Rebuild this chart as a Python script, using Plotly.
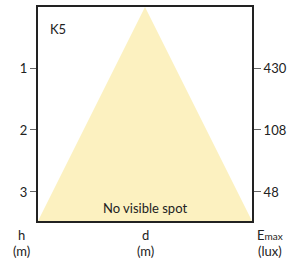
import plotly.graph_objects as go

# Data
heights = [1, 2, 3]                 # h (m) tick values
emax_labels = ["430", "108", "48"]  # Emax (lux) at each height
cone_d = [-1.0, 0.0, 1.0]           # beam spread (relative d)
cone_h = [3.468, 0.016, 3.468]      # beam depth (m)
title_label = "K5"
spot_label = "No visible spot"

FILL = "#FCF1C0"
FRAME = "#222222"
TXT = "#222222"
FONT = "Lato"

fig = go.Figure()
fig.add_trace(go.Scatter(x=cone_d, y=cone_h, fill="toself", fillcolor=FILL,
                         mode="lines", line=dict(width=0, color=FILL),
                         hoverinfo="skip", showlegend=False))
fig.add_trace(go.Scatter(x=[0], y=[1], yaxis="y2", mode="markers",
                         marker=dict(opacity=0), hoverinfo="skip", showlegend=False))

axis_common = dict(showgrid=False, zeroline=False, showline=True, linecolor=FRAME,
                   linewidth=2, automargin=False)
fig.update_layout(
    width=287, height=265,
    margin=dict(l=38, r=35, t=7, b=44),
    paper_bgcolor="white", plot_bgcolor="white",
    font=dict(family=FONT, size=13, color=TXT),
    xaxis=dict(range=[-1, 1], showticklabels=False, ticks="", mirror=True, **axis_common),
    yaxis=dict(range=[3.468, 0.016], tickvals=heights, ticktext=[str(h) for h in heights],
               ticks="outside", ticklen=6, tickcolor="#666666", tickwidth=1,
               mirror=False, **axis_common),
    yaxis2=dict(range=[3.468, 0.016], overlaying="y", side="right",
                tickvals=heights, ticktext=emax_labels,
                ticks="outside", ticklen=7, tickcolor="#666666", tickwidth=1,
                **axis_common),
    showlegend=False,
)

fig.add_annotation(text=title_label, xref="paper", yref="paper", x=0.045, y=0.897,
                   xanchor="left", yanchor="middle", showarrow=False,
                   font=dict(size=13, color=TXT))
fig.add_annotation(text=spot_label, xref="x", yref="paper", x=0, y=0.06,
                   xanchor="center", yanchor="middle", showarrow=False,
                   font=dict(size=13, color=TXT))
bottom_labels = [(-0.075, "h", "(m)"), (0.5, "d", "(m)"),
                 (1.085, "E<span style='font-size:10px'>max</span>", "(lux)")]
for xp, top, bot in bottom_labels:
    for txt, ys in [(top, -14), (bot, -30)]:
        fig.add_annotation(text=txt, xref="paper", yref="paper", x=xp, y=0,
                           yshift=ys, xanchor="center", yanchor="middle",
                           showarrow=False, font=dict(size=13, color=TXT))

fig.write_html("out.html", config={"displayModeBar": False},
               post_script="document.body.style.margin='0';")
